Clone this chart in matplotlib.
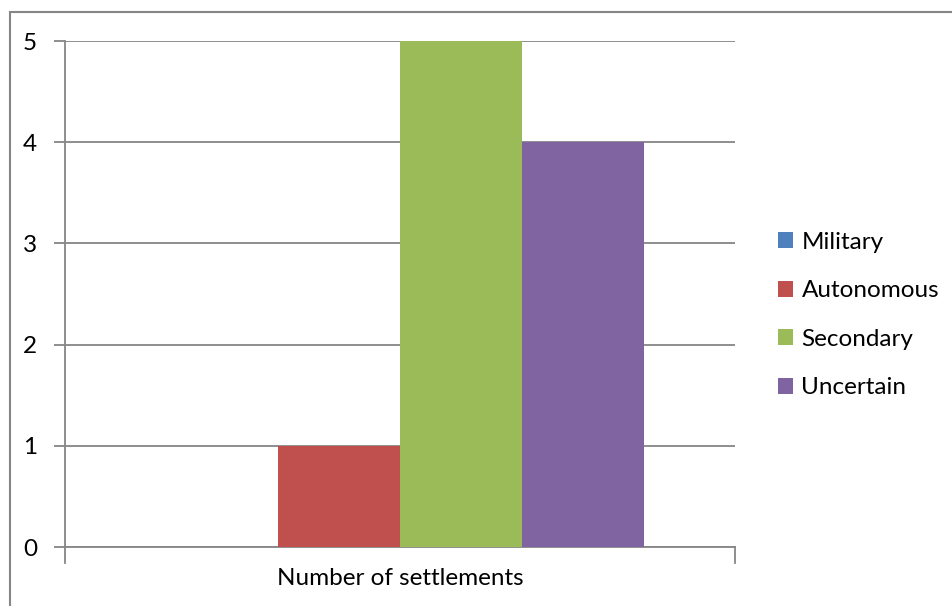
import matplotlib
matplotlib.use("Agg")
import matplotlib.pyplot as plt
from matplotlib.patches import Rectangle

plt.rcParams['font.family'] = ['Lato', 'DejaVu Sans']

category = "Number of settlements"
series = ["Military", "Autonomous", "Secondary", "Uncertain"]
values = [0, 1, 5, 4]
colors = ["#4F81BD", "#C0504D", "#9BBB59", "#8064A2"]
y_ticks = [0, 1, 2, 3, 4, 5]

FS = 17.5
fig = plt.figure(figsize=(9.52, 6.06), dpi=100)
W, H = 952, 606
ax = fig.add_axes([65 / W, 1 - 547 / H, (735 - 65) / W, (547 - 41) / H])

# Clustered columns, Excel-style gap width of 150%
bar_w = 1 / 5.5
start = -0.5 + 0.75 * bar_w
handles = []
for i, (name, v, c) in enumerate(zip(series, values, colors)):
    h = ax.bar(start + (i + 0.5) * bar_w, v, width=bar_w, color=c, label=name, zorder=3)
    handles.append(h)

ax.set_xlim(-0.5, 0.5)
ax.set_ylim(0, 5)
ax.set_yticks(y_ticks)
ax.set_yticklabels([str(t) for t in y_ticks], fontsize=FS)
ax.yaxis.grid(True, color="#868686", linewidth=1.3, zorder=0)
ax.set_xticks([0])
ax.set_xticklabels([category], fontsize=FS)
ax.tick_params(axis='x', length=0, pad=15)
ax.tick_params(axis='y', length=8, width=1.3, color="#868686", pad=12)
for s in ["top", "right"]:
    ax.spines[s].set_visible(False)
for s in ["left", "bottom"]:
    ax.spines[s].set_color("#868686")
    ax.spines[s].set_linewidth(1.3)
# outer boundary ticks on the category axis
for xb in (-0.5, 0.5):
    ax.plot([xb, xb], [0, -0.16], color="#868686", lw=1.3, clip_on=False, zorder=4)

leg = fig.legend(handles=handles, labels=series, loc="upper left",
                 bbox_to_anchor=(756 / W, 1 - 210 / H), frameon=False,
                 fontsize=FS, handlelength=0.62, handleheight=0.62,
                 handletextpad=0.35, labelspacing=1.13)

# chart area border
fig.patches.append(Rectangle((10 / W, -0.1), 1.2, 1 - 12 / H + 0.1,
                             transform=fig.transFigure, fill=False,
                             edgecolor="#868686", linewidth=1.5))

fig.savefig("out.png", dpi=100)
